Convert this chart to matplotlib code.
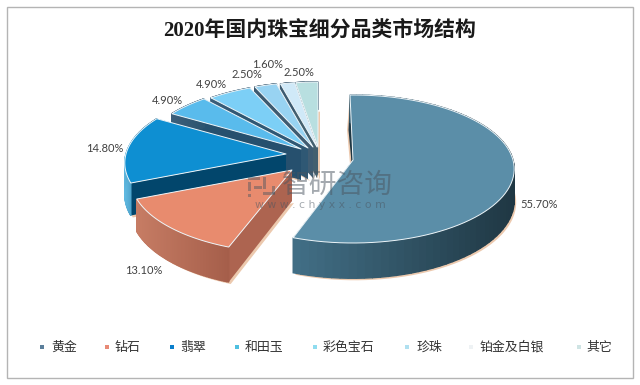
import numpy as np
import matplotlib
matplotlib.use('Agg')
import matplotlib.pyplot as plt
from matplotlib.colors import to_rgb
from matplotlib.patches import Rectangle

categories = ['黄金', '钻石', '翡翠', '和田玉', '彩色宝石', '珍珠', '铂金及白银', '其它']
values = [55.7, 13.1, 14.8, 4.9, 4.9, 2.5, 1.6, 2.5]
labels = ['55.70%', '13.10%', '14.80%', '4.90%', '4.90%', '2.50%', '1.60%', '2.50%']

top_cols = ['#5b8ea8', '#e88b6e', '#0e8fd2', '#59bbec', '#7ccff6', '#98d3f2', '#d0e9f8', '#b8dfe0']
rim_l = ['#426f86', '#c67c64', '#5fb8e0', '#3c5f7a', '#3c5f7a', '#3c5a70', '#3c5a70', '#3c5a70']
rim_r = ['#1f3743', '#a55e4a', '#02466c', '#2c5470', '#2c5470', '#3c5a70', '#3c5a70', '#3c5a70']
face_cols = ['#1f3743', '#ad6450', '#02466c', '#26506e', '#2f5874', '#3f5c72', '#44606f', '#44606f']
leg_cols = ['#5b7f9b', '#e88a76', '#0a7fcc', '#4fc0e0', '#8fdcef', '#b0e0f0', '#eef2f4', '#cfe4e4']

# where each exploded slice sits, in pixels
apex = [(353, 160), (292, 170), (286, 154), (301, 149), (308, 148), (313, 147), (317, 147), (318, 147)]
turn = [-1.2, 0, 0, 0, 0, 0, 0, 0]  # degrees, small nudge per slice
label_xy = [(539, 204), (144, 270), (105, 148), (167, 101), (211, 84), (247, 74), (268, 65), (299, 72)]
leg_mark_x = [42, 107, 172, 237, 315, 407, 471, 579]
leg_text_x = [51, 115, 180, 245, 323, 416, 480, 586]

a = 160.0
b = 72.9
p = 0.1216
depth = 31.0

sans = ['Noto Sans CJK SC', 'DejaVu Sans']


def rim(t, ap):
    X, Y = np.sin(t), np.cos(t)
    d = 1 + p * Y
    return ap[0] + a * X / d, ap[1] - b * Y / d, depth / d


fig = plt.figure(figsize=(6.4, 3.85), dpi=100)
ax = fig.add_axes([0, 0, 1, 1])
ax.set_xlim(0, 640)
ax.set_ylim(385, 0)
ax.axis('off')

ax.add_patch(Rectangle((6.5, 6.5), 626, 371, fc='white', ec='#b4b4b4', lw=1))

edges = np.cumsum([0] + values) / sum(values) * 2 * np.pi

for i in range(len(values) - 1, -1, -1):
    ap = apex[i]
    t = np.linspace(edges[i], edges[i + 1], 80) + np.radians(turn[i])
    x, y, dz = rim(t, ap)

    # peach shadow under the block
    ax.fill(np.r_[ap[0] + 2, x + 2], np.r_[ap[1] + depth + 2, y + dz + 2], color='#ecc9ae', lw=0)

    # sliver of the back cut face, shows on the gold slice
    if i == 0:
        ax.fill([ap[0], x[0], x[0] - 3, ap[0] - 3], [ap[1], y[0], y[0] + 35, ap[1] + 4], color='#ecc9ae', lw=0)
        ax.fill([ap[0], x[0], x[0] - 1.5, ap[0] - 1.5], [ap[1], y[0], y[0] + 35, ap[1] + 2], color=face_cols[0], lw=0)

    for k in (0, -1):
        ax.fill([ap[0], x[k], x[k], ap[0]], [ap[1], y[k], y[k] + dz[k], ap[1] + depth],
                color=face_cols[i], lw=0)

    c0, c1 = np.array(to_rgb(rim_l[i])), np.array(to_rgb(rim_r[i]))
    span = max(x.max() - x.min(), 1)
    for j in range(len(t) - 1):
        f = (0.5 * (x[j] + x[j + 1]) - x.min()) / span
        ax.fill([x[j], x[j + 1], x[j + 1], x[j]],
                [y[j], y[j + 1], y[j + 1] + dz[j + 1], y[j] + dz[j]],
                color=c0 + (c1 - c0) * f, lw=1.0)

    ax.fill(np.r_[ap[0], x], np.r_[ap[1], y], fc=top_cols[i], ec='#eef6fa', lw=0.7, joinstyle='round')

for lab, (lx, ly) in zip(labels, label_xy):
    ax.text(lx, ly, lab, ha='center', va='center', fontsize=8, color='#404040', family='Lato')

# watermark
wm = '#4a5560'
for sx, sy, sw, sh in [(248, 177, 12, 3), (248, 182, 3, 9), (248, 194, 3, 3), (254, 186, 8, 3),
                       (263, 177, 3, 12), (263, 192, 12, 3), (272, 186, 3, 8)]:
    ax.add_patch(Rectangle((sx, sy), sw, sh, fc=wm, ec='none', alpha=0.45))
ax.text(337, 185, '智研咨询', ha='center', va='center', fontsize=20, color=wm, alpha=0.5, family=sans)
ax.text(320, 205, 'w w w . c h y x x . c o m', ha='center', va='center', fontsize=7.8,
        color=wm, alpha=0.5, family='DejaVu Sans')

ax.text(320, 31, '2020年国内珠宝细分品类市场结构', ha='center', va='center', fontsize=15,
        fontweight='bold', color='#1a1a1a', family=['Liberation Serif', 'Noto Sans CJK SC'])

for c, col, mx, tx in zip(categories, leg_cols, leg_mark_x, leg_text_x):
    ax.add_patch(Rectangle((mx - 2, 345), 4, 4, fc=col, ec='none'))
    ax.text(tx, 347, c, ha='left', va='center', fontsize=9.3, color='#333333', family=sans)

fig.savefig('out.png', dpi=100)
